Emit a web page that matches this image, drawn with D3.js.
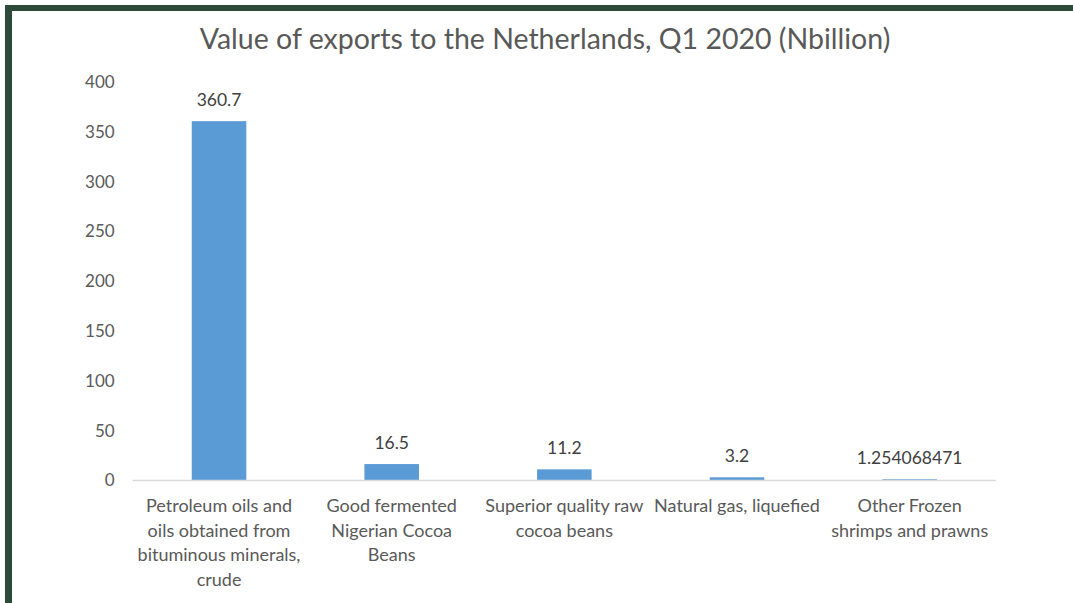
<!DOCTYPE html>
<html>
<head>
<meta charset="utf-8">
<script src="https://cdn.jsdelivr.net/npm/d3@7"></script>
<style>
  body { margin: 0; background: #fff; }
  svg text { font-family: Lato, "Open Sans", sans-serif; }
</style>
</head>
<body>
<div id="chart"></div>
<script>
// chart data
const categories = [
  ["Petroleum oils and", "oils obtained from", "bituminous minerals,", "crude"],
  ["Good fermented", "Nigerian Cocoa", "Beans"],
  ["Superior quality raw", "cocoa beans"],
  ["Natural gas, liquefied"],
  ["Other Frozen", "shrimps and prawns"]
];
const values = [360.7, 16.5, 11.2, 3.2, 1.254068471];
const valueLabels = ["360.7", "16.5", "11.2", "3.2", "1.254068471"];
const yTicks = [0, 50, 100, 150, 200, 250, 300, 350, 400];

const svgWidth = 1073;
const svgHeight = 603;

const svg = d3.select("#chart")
  .append("svg")
  .attr("width", svgWidth)
  .attr("height", svgHeight);

// dark green frame on top and left
svg.append("rect").attr("x", 5).attr("y", 5).attr("width", svgWidth - 5).attr("height", 6).attr("fill", "#2e4a3b");
svg.append("rect").attr("x", 5).attr("y", 5).attr("width", 7).attr("height", svgHeight - 5).attr("fill", "#2e4a3b");

const x = d3.scaleBand()
  .domain(d3.range(categories.length))
  .range([132.7, 996])
  .paddingInner(0.684)
  .paddingOuter(0.342);

const y = d3.scaleLinear()
  .domain([0, 400])
  .range([480.5, 82]);

svg.append("text")
  .attr("x", 545)
  .attr("y", 49)
  .attr("text-anchor", "middle")
  .attr("font-size", 28.5)
  .attr("fill", "#595959")
  .text("Value of exports to the Netherlands, Q1 2020 (Nbillion)");

// y axis labels only
const yAxis = svg.append("g")
  .attr("transform", "translate(132.7,0)")
  .call(d3.axisLeft(y).tickValues(yTicks).tickSize(0).tickPadding(18));
yAxis.select(".domain").remove();
yAxis.selectAll("text")
  .attr("font-size", 17)
  .attr("fill", "#595959")
  .style("font-family", "Lato, sans-serif");

svg.selectAll(".bar")
  .data(values)
  .enter()
  .append("rect")
  .attr("class", "bar")
  .attr("x", (d, i) => x(i))
  .attr("y", d => y(d))
  .attr("width", x.bandwidth())
  .attr("height", d => y(0) - y(d))
  .attr("fill", "#5b9bd5");

// baseline
svg.append("line")
  .attr("x1", 132.7).attr("x2", 996)
  .attr("y1", y(0)).attr("y2", y(0))
  .attr("stroke", "#d9d9d9")
  .attr("stroke-width", 1.5);

svg.selectAll(".valLabel")
  .data(values)
  .enter()
  .append("text")
  .attr("class", "valLabel")
  .attr("x", (d, i) => x(i) + x.bandwidth() / 2)
  .attr("y", d => y(d) - 15)
  .attr("text-anchor", "middle")
  .attr("font-size", 17.5)
  .attr("fill", "#404040")
  .text((d, i) => valueLabels[i]);

const catText = svg.selectAll(".catLabel")
  .data(categories)
  .enter()
  .append("text")
  .attr("class", "catLabel")
  .attr("text-anchor", "middle")
  .attr("font-size", 18)
  .attr("fill", "#595959");

catText.selectAll("tspan")
  .data((d, i) => d.map(line => ({ line, i })))
  .enter()
  .append("tspan")
  .attr("x", d => x(d.i) + x.bandwidth() / 2)
  .attr("y", (d, j) => 512 + j * 24.5)
  .text(d => d.line);
</script>
</body>
</html>
